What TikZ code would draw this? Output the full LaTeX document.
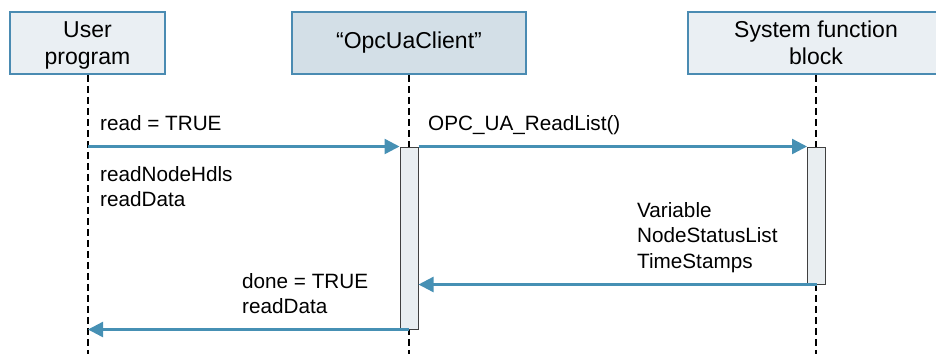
\documentclass[tikz,border=0pt]{standalone}
\usepackage{fontspec}
\setmainfont{Liberation Sans}
\usetikzlibrary{arrows.meta}
\definecolor{boxline}{HTML}{4A8BB2}
\definecolor{boxfill}{HTML}{EAEFF3}
\definecolor{boxfillB}{HTML}{D3DFE7}
\definecolor{arrowc}{HTML}{4690B4}
\definecolor{barfill}{HTML}{E9EEF1}
\begin{document}
\begin{tikzpicture}[x=1pt,y=-1pt,
  actor/.style={draw=boxline, line width=1.6pt, fill=boxfill, inner sep=0pt,
    minimum height=62pt, align=center, font=\fontsize{23}{27}\selectfont},
  lifeline/.style={draw=black, line width=2pt, dash pattern=on 7pt off 4pt},
  actbar/.style={draw=black!75, line width=1pt, fill=barfill, inner sep=0pt, minimum width=18pt},
  msg/.style={draw=arrowc, line width=2.4pt, -{Triangle[length=15pt,width=15pt]}},
  lbl/.style={anchor=base west, inner sep=0pt, font=\fontsize{20.7}{25}\selectfont}]
\useasboundingbox (0,0) rectangle (936,354);
% actors
\node[actor, minimum width=155pt, text depth=0pt] (user) at (87.5,43) {User\\program};
\node[actor, minimum width=234pt, fill=boxfillB] (client) at (409,43) {“OpcUaClient”};
\node[actor, minimum width=256pt] (sys) at (816,43) {System function\\block};
% lifelines
\coordinate (uend) at (88,354);
\coordinate (cend) at (409,354);
\coordinate (send) at (816,354);
\draw[lifeline] (user.south -| uend) -- (uend);
\draw[lifeline] (client.south) -- (cend);
\draw[lifeline] (sys.south) -- (send);
% activation bars
\node[actbar, minimum height=182pt] (bar1) at (409,238) {};
\node[actbar, minimum height=137pt] (bar2) at (816.5,215.5) {};
% messages
\draw[msg] (uend |- bar1.north west) -- (bar1.north west);
\draw[msg] (bar1.north east) -- (bar2.north west);
\draw[msg] (bar2.south) -- (bar1.east |- bar2.south);
\draw[msg] (bar1.south) -- (uend |- bar1.south);
% labels
\node[lbl] (l1) at (100,130) {read = TRUE};
\node[lbl] (l2) at (100,181) {readNodeHdls};
\node[lbl] (l3) at (100,206) {readData};
\node[lbl] (l4) at (428,130) {OPC\_UA\_ReadList()};
\node[lbl] (l5) at (637,217) {Variable};
\node[lbl] (l6) at (637,242.5) {NodeStatusList};
\node[lbl] (l7) at (637,268) {TimeStamps};
\node[lbl] (l8) at (242,288) {done = TRUE};
\node[lbl] (l9) at (242,313) {readData};
\end{tikzpicture}
\end{document}
